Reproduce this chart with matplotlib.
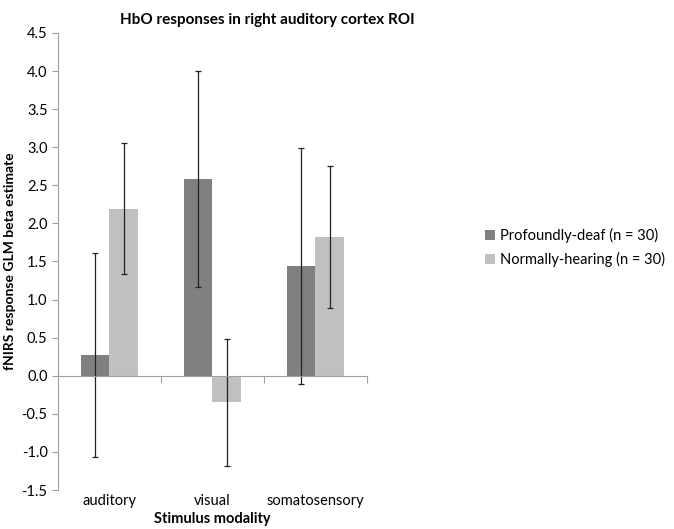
import numpy as np
from matplotlib import pyplot as plt

plt.rcParams['font.family'] = ['Lato', 'DejaVu Sans']

categories = ['auditory', 'visual', 'somatosensory']
deaf_vals = [0.27, 2.58, 1.44]
deaf_err = [1.34, 1.42, 1.55]
hearing_vals = [2.19, -0.35, 1.82]
hearing_err = [0.86, 0.83, 0.93]
series_names = ['Profoundly-deaf (n = 30)', 'Normally-hearing (n = 30)']

fig = plt.figure(figsize=(6.74, 5.29), dpi=100)
ax = fig.add_axes([0.086, 0.0737, 0.4585, 0.864])

x = np.arange(len(categories))
w = 0.28
err_kw = dict(ecolor='#222222', elinewidth=0.9, capsize=2.5, capthick=0.9)
ax.bar(x - w / 2, deaf_vals, w, yerr=deaf_err, color='#808080', label=series_names[0], error_kw=err_kw)
ax.bar(x + w / 2, hearing_vals, w, yerr=hearing_err, color='#c0c0c0', label=series_names[1], error_kw=err_kw)

ax.set_xlim(-0.5, 2.5)
ax.set_ylim(-1.5, 4.5)
ax.set_yticks(np.arange(-1.5, 4.51, 0.5))
ax.set_yticklabels(['%.1f' % v for v in np.arange(-1.5, 4.51, 0.5)], fontsize=10.5)

# zero line with category dividers
ax.spines['bottom'].set_position(('data', 0))
ax.spines['bottom'].set_color('#a0a0a0')
ax.set_xticks([0.5, 1.5, 2.5])
ax.set_xticklabels([])
ax.tick_params(axis='x', length=5, color='#a0a0a0')
ax.spines['left'].set_color('#a0a0a0')
ax.tick_params(axis='y', length=4, color='#a0a0a0')
ax.spines['top'].set_visible(False)
ax.spines['right'].set_visible(False)

sec = ax.secondary_xaxis('bottom')
sec.set_xticks(x)
sec.set_xticklabels(categories, fontsize=10.5)
sec.tick_params(length=0, pad=3)
sec.spines['bottom'].set_visible(False)
sec.set_xlabel('Stimulus modality', fontsize=10.5, fontweight='bold', labelpad=3)

ax.set_ylabel('fNIRS response GLM beta estimate', fontsize=10, fontweight='bold', labelpad=4)
fig.text(0.397, 0.962, 'HbO responses in right auditory cortex ROI', fontsize=11, fontweight='bold', ha='center', va='center')

fig.legend(loc='center left', bbox_to_anchor=(0.7, 0.532), frameon=False, fontsize=10.5,
           handlelength=0.7, handleheight=0.7, handletextpad=0.3, labelspacing=0.6)

fig.savefig('out.png', dpi=100)
